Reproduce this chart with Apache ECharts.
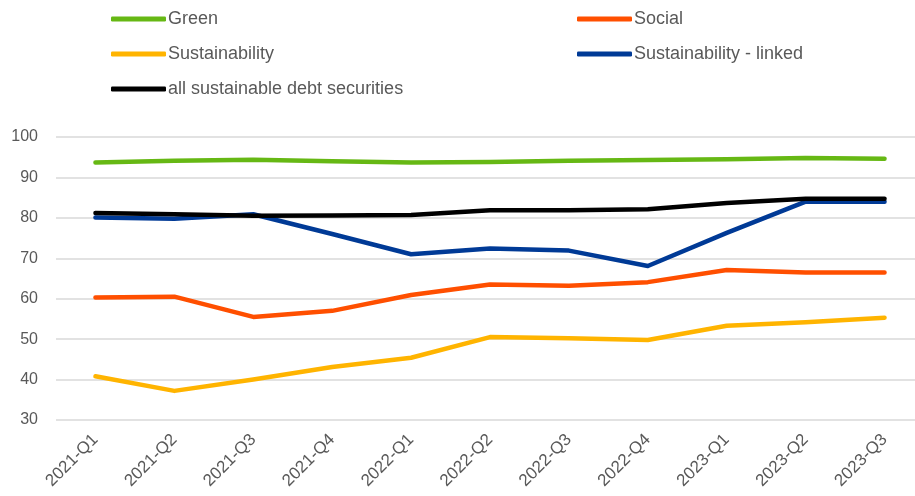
<!DOCTYPE html>
<html>
<head>
<meta charset="utf-8">
<script src="https://cdn.jsdelivr.net/npm/echarts@6/dist/echarts.min.js"></script>
<style>html,body{margin:0;padding:0;background:#fff;width:915px;height:496px;overflow:hidden}#c{width:924px;height:496px}</style>
</head>
<body>
<div id="c"></div>
<script>
const categories = ['2021-Q1','2021-Q2','2021-Q3','2021-Q4','2022-Q1','2022-Q2','2022-Q3','2022-Q4','2023-Q1','2023-Q2','2023-Q3'];
const green = [93.7, 94.1, 94.4, 94.0, 93.7, 93.8, 94.1, 94.3, 94.5, 94.8, 94.6];
const social = [60.3, 60.5, 55.5, 57.0, 60.9, 63.5, 63.2, 64.1, 67.1, 66.5, 66.5];
const sustainability = [40.8, 37.2, 40.0, 43.1, 45.4, 50.5, 50.2, 49.8, 53.3, 54.2, 55.3];
const sustainabilityLinked = [80.1, 79.8, 80.9, 76.0, 71.0, 72.4, 71.9, 68.1, 76.3, 84.0, 84.0];
const allSustainable = [81.2, 80.9, 80.5, 80.6, 80.7, 81.9, 81.9, 82.1, 83.7, 84.7, 84.7];
const yTicks = {min: 30, max: 100, interval: 10};

const font = 'Liberation Sans, Arial, sans-serif';
const txt = '#595959';
function mk(name, data, color) {
  return {name, type: 'line', data, symbol: 'none', smooth: false,
    lineStyle: {color, width: 4.5, cap: 'round', join: 'round'}, itemStyle: {color}};
}
const legendBase = {orient: 'vertical', icon: 'roundRect', itemWidth: 55, itemHeight: 5,
  itemGap: 15, textStyle: {fontFamily: font, fontSize: 18, color: txt, lineHeight: 20, padding: [0,0,0,-3]}};
const chart = echarts.init(document.getElementById('c'), null, {renderer: 'canvas'});
chart.setOption({
  animation: false,
  legend: [
    Object.assign({}, legendBase, {left: 106, top: 4, data: ['Green', 'Sustainability', 'all sustainable debt securities']}),
    Object.assign({}, legendBase, {left: 572, top: 4, data: ['Social', 'Sustainability - linked']})
  ],
  grid: {left: 56, right: 0, top: 137, bottom: 76, containLabel: false},
  xAxis: {type: 'category', data: categories, boundaryGap: true,
    axisLine: {show: false}, axisTick: {show: false},
    axisLabel: {rotate: 45, fontFamily: font, fontSize: 17, color: txt, margin: 17, interval: 0}},
  yAxis: {type: 'value', min: yTicks.min, max: yTicks.max, interval: yTicks.interval,
    axisLine: {show: false}, axisTick: {show: false},
    axisLabel: {fontFamily: font, fontSize: 16, color: txt, margin: 18},
    splitLine: {lineStyle: {color: '#D9D9D9', width: 1.5}}},
  series: [
    mk('Green', green, '#66B814'),
    mk('Social', social, '#FF4F00'),
    mk('Sustainability', sustainability, '#FFB400'),
    mk('Sustainability - linked', sustainabilityLinked, '#003A96'),
    mk('all sustainable debt securities', allSustainable, '#000000')
  ]
});
</script>
</body>
</html>
